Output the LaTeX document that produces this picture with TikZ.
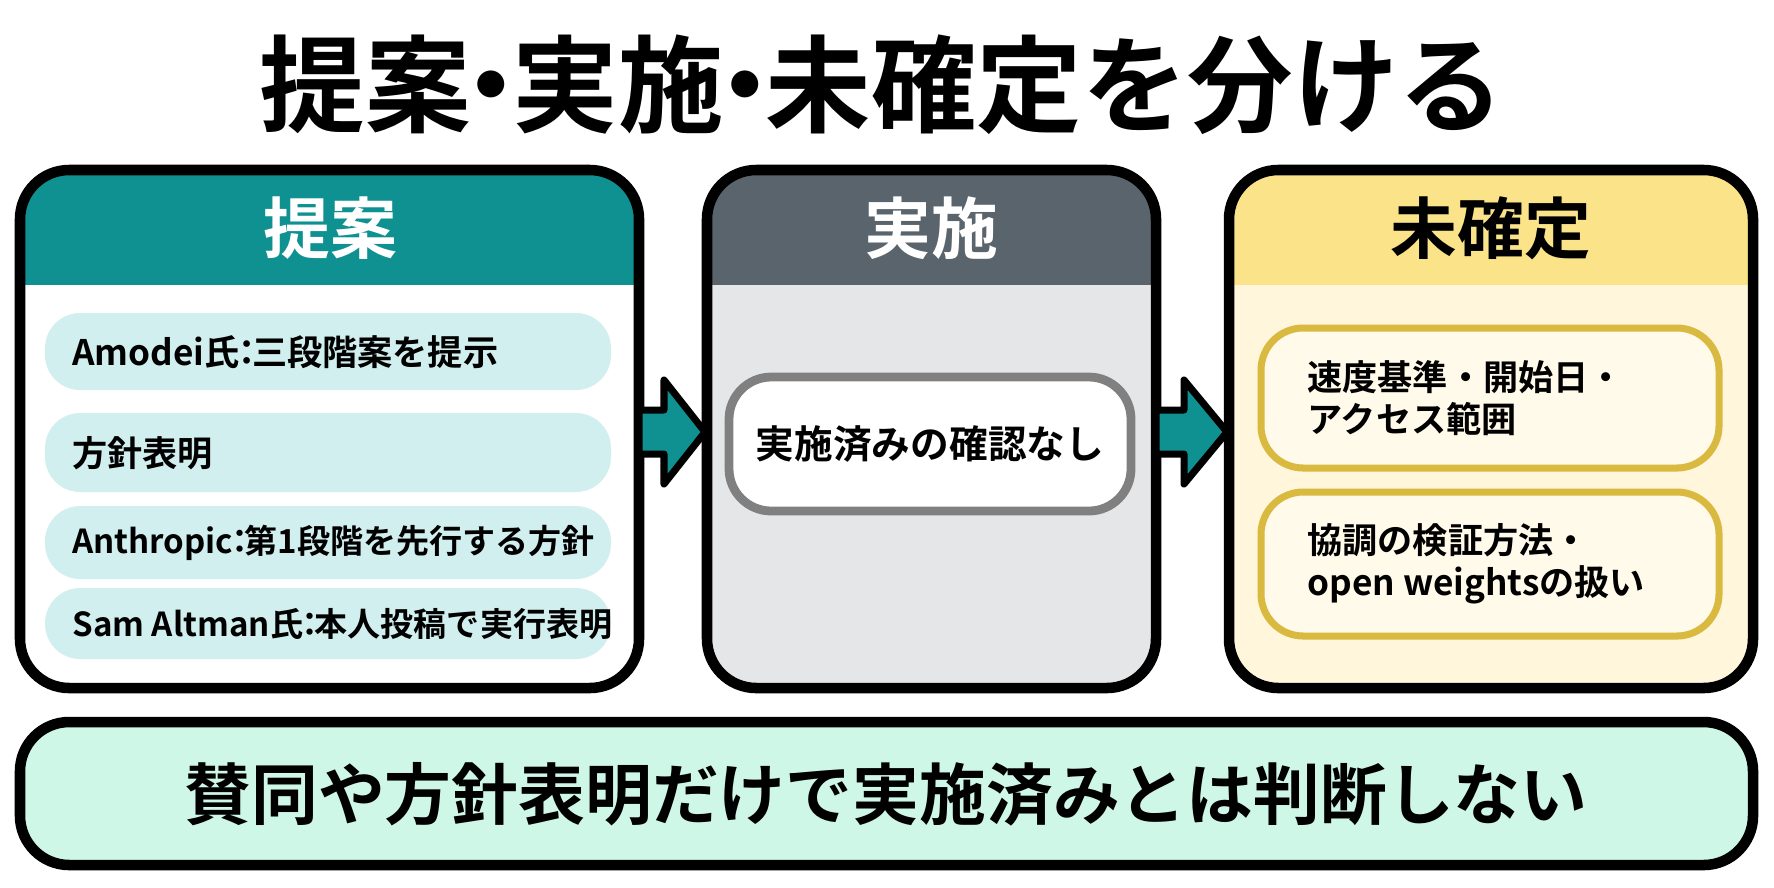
\documentclass[tikz,border=0pt]{standalone}
\usepackage{fontspec}
\setmainfont{Noto Sans CJK JP}[BoldFont={* Bold}]
\usetikzlibrary{arrows.meta}
\definecolor{tealhd}{HTML}{0F9191}
\definecolor{tealit}{HTML}{D2EFEF}
\definecolor{grayhd}{HTML}{5A646C}
\definecolor{graybd}{HTML}{E4E6E8}
\definecolor{yelhd}{HTML}{FBE38A}
\definecolor{yelbd}{HTML}{FFF6DC}
\definecolor{yelln}{HTML}{D9B93F}
\definecolor{mintbd}{HTML}{CFF7E8}
\newcommand{\ncol}{\kern-0.3em：\kern-0.35em}
\tikzset{
  panel/.style={line width=3pt,rounded corners=14pt},
  item/.style={fill=tealit,rounded corners=10pt},
  ylitem/.style={fill=white!40!yelbd,draw=yelln,line width=2pt,rounded corners=12pt},
  itemtxt/.style={anchor=west,font=\bfseries\fontsize{10}{12}\selectfont},
  hdtxt/.style={font=\bfseries\fontsize{19}{22}\selectfont},
  flow/.style={fill=tealhd,draw=black,line width=2pt,line join=round}
}
\begin{document}
\begin{tikzpicture}[x=0.01cm,y=-0.01cm]
  \useasboundingbox (0,0) rectangle (1774,887);
  \node[font=\bfseries\fontsize{30}{34}\selectfont] (title) at (882,85) {提案\kern-0.3em・\kern-0.3em実施\kern-0.3em・\kern-0.3em未確定を分ける};

  % left panel
  \begin{scope}
    \clip[rounded corners=14pt] (20,170) rectangle (639,688);
    \fill[white] (20,170) rectangle (639,688);
    \fill[tealhd] (20,170) rectangle (639,285);
  \end{scope}
  \draw[panel] (20,170) rectangle (639,688);
  \node[hdtxt,white] (hdA) at (330,228) {提案};
  \fill[item] (45,313) rectangle (611,390);
  \fill[item] (45,413) rectangle (611,492);
  \fill[item] (45,506) rectangle (611,579);
  \fill[item] (45,588) rectangle (611,659);
  \node[itemtxt] (a1) at (60,352) {Amodei氏\ncol 三段階案を提示};
  \node[itemtxt] (a2) at (60,453) {方針表明};
  \node[itemtxt,font=\bfseries\fontsize{9.4}{11}\selectfont] (a3) at (60,543) {Anthropic\ncol 第1段階を先行する方針};
  \node[itemtxt,font=\bfseries\fontsize{9.4}{11}\selectfont] (a4) at (60,624) {Sam Altman氏\ncol 本人投稿で実行表明};

  % middle panel
  \begin{scope}
    \clip[rounded corners=14pt] (707,170) rectangle (1156,688);
    \fill[graybd] (707,170) rectangle (1156,688);
    \fill[grayhd] (707,170) rectangle (1156,285);
  \end{scope}
  \draw[panel] (707,170) rectangle (1156,688);
  \node[hdtxt,white] (hdB) at (931,228) {実施};
  \draw[fill=white,draw=gray,line width=2.5pt,rounded corners=12pt] (729,377) rectangle (1131,511);
  \node[font=\bfseries\fontsize{11}{13}\selectfont] (b1) at (930,444) {実施済みの確認なし};

  % right panel
  \begin{scope}
    \clip[rounded corners=14pt] (1229,170) rectangle (1753,688);
    \fill[yelbd] (1229,170) rectangle (1753,688);
    \fill[yelhd] (1229,170) rectangle (1753,285);
  \end{scope}
  \draw[panel] (1229,170) rectangle (1753,688);
  \node[hdtxt] (hdC) at (1491,228) {未確定};
  \draw[ylitem] (1261,328) rectangle (1719,468);
  \draw[ylitem] (1261,492) rectangle (1719,636);
  \node[itemtxt,align=left] (c1) at (1295,398) {速度基準・開始日・\\アクセス範囲};
  \node[itemtxt,align=left] (c2) at (1295,564) {協調の検証方法・\\open weightsの扱い};

  % flow arrows
  \draw[flow] (639,410) -- (664,410) -- (664,380) -- (705,432) -- (664,484) -- (664,454) -- (639,454) -- cycle;
  \draw[flow] (1156,410) -- (1184,410) -- (1184,380) -- (1227,432) -- (1184,484) -- (1184,454) -- (1156,454) -- cycle;

  % bottom note
  \draw[panel,fill=mintbd] (20,722) rectangle (1753,865);
  \node[font=\bfseries\fontsize{19}{22}\selectfont] (note) at (886,794) {賛同や方針表明だけで実施済みとは判断しない};
\end{tikzpicture}
\end{document}
